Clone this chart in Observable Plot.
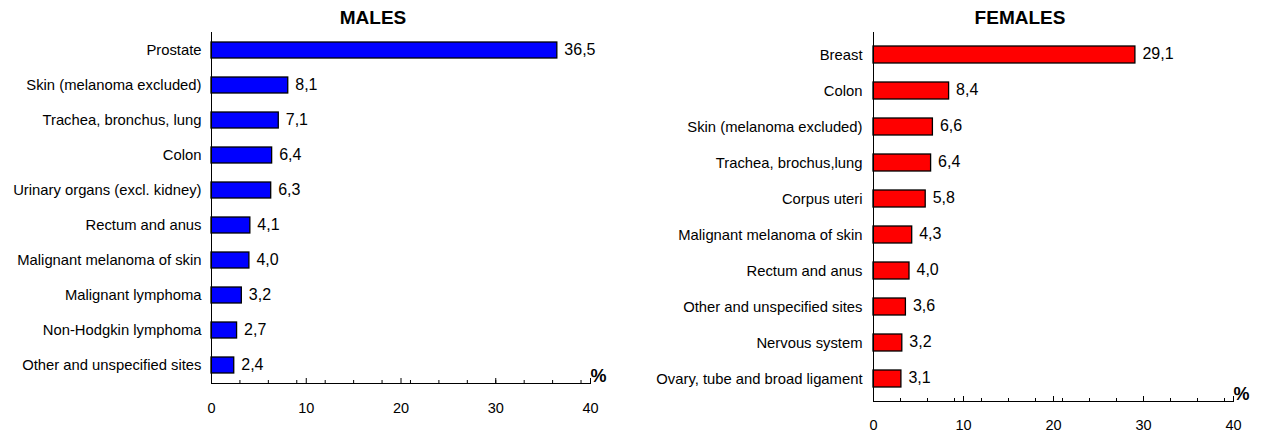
<!DOCTYPE html>
<html>
<head>
<meta charset="utf-8">
<script src="https://cdn.jsdelivr.net/npm/d3@7"></script>
<script src="https://cdn.jsdelivr.net/npm/@observablehq/plot@0.6"></script>
<style>
  html, body { margin: 0; padding: 0; background: #fff; }
  #wrap { position: relative; width: 1263px; height: 434px; overflow: hidden; font-family: "Liberation Sans", Arial, sans-serif; }
  .panel { position: absolute; top: 0; }
  .title { position: absolute; top: 8px; width: 240px; text-align: center; font: bold 19px/19px "Liberation Sans", Arial, sans-serif; color: #000; }
</style>
</head>
<body>
<div id="wrap"></div>
<script>
const maleCategories = ["Prostate", "Skin (melanoma excluded)", "Trachea, bronchus, lung", "Colon", "Urinary organs (excl. kidney)", "Rectum and anus", "Malignant melanoma of skin", "Malignant lymphoma", "Non-Hodgkin lymphoma", "Other and unspecified sites"];
const maleValues = [36.5, 8.1, 7.1, 6.4, 6.3, 4.1, 4.0, 3.2, 2.7, 2.4];

const femaleCategories = ["Breast", "Colon", "Skin (melanoma excluded)", "Trachea, brochus,lung", "Corpus uteri", "Malignant melanoma of skin", "Rectum and anus", "Other and unspecified sites", "Nervous system", "Ovary, tube and broad ligament"];
const femaleValues = [29.1, 8.4, 6.6, 6.4, 5.8, 4.3, 4.0, 3.6, 3.2, 3.1];

const tickLabels = [0, 10, 20, 30, 40];
const majorTicks = [10, 20, 30, 40];
const minorTicks = [3, 6, 9, 12, 15, 18, 21, 24, 27, 30, 33, 36, 39];

const fmt = v => v.toFixed(1).replace(".", ",");
const FONT = "'Liberation Sans', Arial, sans-serif";

function panel(cats, vals, color, opts) {
  const data = cats.map((c, i) => ({cat: c, value: vals[i]}));
  return Plot.plot({
    width: opts.width,
    height: opts.height,
    marginLeft: opts.marginLeft,
    marginRight: opts.marginRight,
    marginTop: 32,
    marginBottom: opts.marginBottom,
    style: {fontFamily: FONT, fontSize: "14px", color: "#000", background: "transparent", overflow: "visible"},
    x: {domain: [0, 40]},
    y: {domain: cats, paddingInner: 0.54, paddingOuter: 0.27},
    marks: [
      Plot.barX(data, {x: "value", y: "cat", fill: color, stroke: "#000", strokeWidth: 1.3}),
      Plot.text(data, {x: "value", y: "cat", text: d => fmt(d.value), dx: 7, dy: -1, textAnchor: "start", fontSize: 16, fill: "#000"}),
      Plot.frame({anchor: "left", stroke: "#000"}),
      Plot.frame({anchor: "bottom", stroke: "#000"}),
      Plot.axisY({tickSize: 0, tickPadding: opts.yPad, label: null, fontSize: 14.8}),
      Plot.axisX({ticks: tickLabels, tickSize: 0, tickPadding: opts.xPad, label: null, tickFormat: d => String(d), fontSize: 14.5}),
      Plot.axisX({ticks: minorTicks, tickSize: -3, label: null, tickFormat: () => ""}),
      Plot.axisX({ticks: majorTicks, tickSize: -5, label: null, tickFormat: () => ""}),
      Plot.text(["%"], {frameAnchor: "bottom-right", dx: 0, dy: -2, textAnchor: "start", lineAnchor: "bottom", fontSize: 18, fontWeight: "bold", fill: "#000"})
    ]
  });
}

const wrap = document.getElementById("wrap");

const m = panel(maleCategories, maleValues, "#0000ff", {width: 620, height: 423, marginLeft: 211, marginRight: 30, marginBottom: 40, yPad: 10, xPad: 19});
const mDiv = document.createElement("div");
mDiv.className = "panel"; mDiv.style.left = "0px";
mDiv.appendChild(m);
wrap.appendChild(mDiv);

const f = panel(femaleCategories, femaleValues, "#ff0000", {width: 623, height: 434, marginLeft: 233, marginRight: 30, marginBottom: 33, yPad: 11, xPad: 18});
const fDiv = document.createElement("div");
fDiv.className = "panel"; fDiv.style.left = "640px";
fDiv.appendChild(f);
wrap.appendChild(fDiv);

const t1 = document.createElement("div");
t1.className = "title"; t1.style.left = (373 - 120) + "px"; t1.textContent = "MALES";
wrap.appendChild(t1);
const t2 = document.createElement("div");
t2.className = "title"; t2.style.left = (1020 - 120) + "px"; t2.textContent = "FEMALES";
wrap.appendChild(t2);
</script>
</body>
</html>
